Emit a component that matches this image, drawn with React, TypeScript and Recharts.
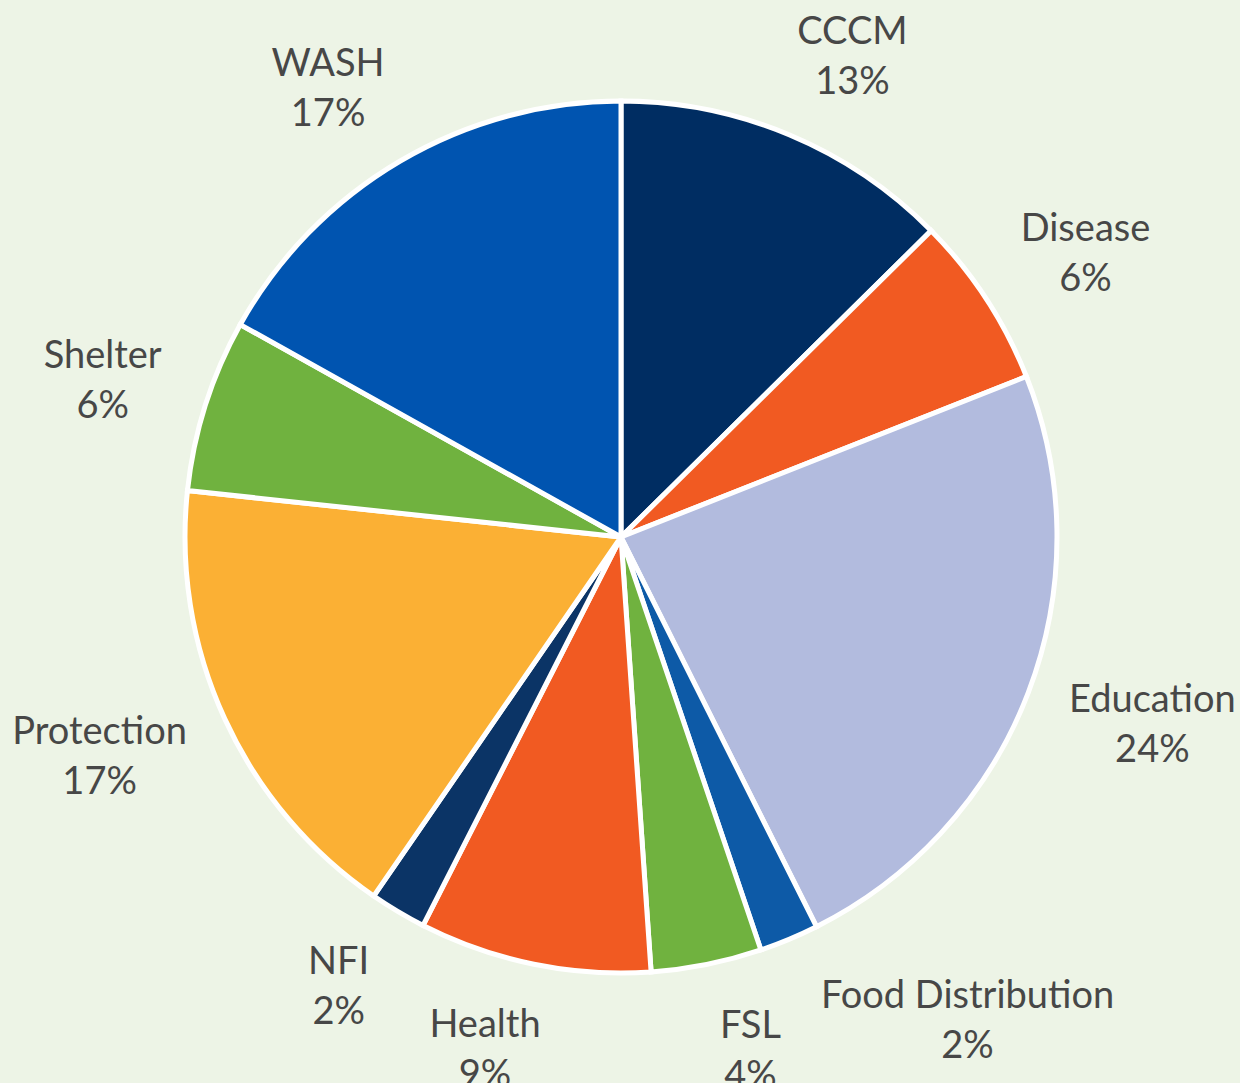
import React from 'react';
import { PieChart, Pie, Cell } from 'recharts';

// share of projects per sector (%)
const categories = ['CCCM', 'Disease', 'Education', 'Food Distribution', 'FSL', 'Health', 'NFI', 'Protection', 'Shelter', 'WASH'];
const shares = [12.6, 6.4, 23.6, 2.2, 4.1, 8.6, 2.1, 17.1, 6.4, 16.9];
const colors = ['#002D62', '#F15A22', '#B2BBDE', '#0D5AA7', '#70B23F', '#F15A22', '#0B3466', '#FBB034', '#70B23F', '#0054B0'];

const data = categories.map((name, i) => ({ name, value: shares[i] }));

const W = 1240;
const H = 1083;
const CX = 621;
const CY = 537;
const R = 436;
const FONT = 'Lato, "Open Sans", sans-serif';
const FONT_SIZE = 38;
const GAP = 48;
const HALF_H = 38;
const PAD = 40;
const SPREAD = 30;
const RAD = Math.PI / 180;

let ctx: CanvasRenderingContext2D | null = null;
function textWidth(s: string) {
  if (!ctx) ctx = document.createElement('canvas').getContext('2d');
  if (!ctx) return s.length * FONT_SIZE * 0.5;
  ctx.font = `${FONT_SIZE}px Lato`;
  return ctx.measureText(s).width;
}

// outside labels, roughly like excel's best fit, nudged sideways when they collide
function layoutLabels() {
  const total = shares.reduce((a, b) => a + b, 0);
  let cum = 0;
  const items = shares.map((v, i) => {
    const mid = ((cum + v / 2) / total) * 360;
    cum += v;
    const ux = Math.sin(mid * RAD);
    const uy = -Math.cos(mid * RAD);
    const pct = `${Math.round((v / total) * 100)}%`;
    const hw = Math.max(textWidth(categories[i]), textWidth(pct)) / 2;
    // labels near top / bottom get spread sideways a bit more
    const spread = SPREAD * Math.sign(ux) * Math.pow(Math.abs(uy), 3);
    return { i, mid, hw, x: CX + (R + GAP + hw) * ux + spread, y: CY + (R + GAP + HALF_H) * uy };
  });
  const right = items.filter((d) => d.mid < 180).sort((a, b) => b.mid - a.mid);
  const left = items.filter((d) => d.mid >= 180).sort((a, b) => a.mid - b.mid);
  const resolve = (side: typeof items, dir: number) => {
    const placed: typeof items = [];
    side.forEach((d) => {
      placed.forEach((p) => {
        const overlapY = Math.abs(d.y - p.y) < HALF_H * 2;
        const overlapX = d.x - d.hw < p.x + p.hw + PAD && d.x + d.hw + PAD > p.x - p.hw;
        if (overlapY && overlapX) {
          d.x = dir > 0 ? p.x + p.hw + PAD + d.hw : p.x - p.hw - PAD - d.hw;
        }
      });
      placed.push(d);
    });
  };
  resolve(right, 1);
  resolve(left, -1);
  const out: { x: number; y: number }[] = [];
  items.forEach((d) => (out[d.i] = { x: d.x, y: d.y }));
  return out;
}

const labelPos = layoutLabels();

const renderLabel = (props: any) => {
  const { index, name, percent } = props;
  const p = labelPos[index];
  return (
    <text x={p.x} y={p.y} textAnchor="middle" fill="#474747" fontFamily={FONT} fontSize={FONT_SIZE}>
      <tspan x={p.x} y={p.y - 11}>{name}</tspan>
      <tspan x={p.x} y={p.y + 39}>{`${Math.round(percent * 100)}%`}</tspan>
    </text>
  );
};

export default function App() {
  return (
    <div style={{ position: 'absolute', left: 0, top: 0, width: W, height: H, background: '#EDF4E6' }}>
      <PieChart width={W} height={H} margin={{ top: 0, right: 0, bottom: 0, left: 0 }}>
        <Pie
          data={data}
          dataKey="value"
          nameKey="name"
          cx={CX}
          cy={CY}
          outerRadius={R}
          startAngle={90}
          endAngle={-270}
          stroke="#FFFFFF"
          strokeWidth={5}
          label={renderLabel}
          labelLine={false}
          isAnimationActive={false}
        >
          {data.map((d, i) => (
            <Cell key={d.name} fill={colors[i]} />
          ))}
        </Pie>
      </PieChart>
    </div>
  );
}
